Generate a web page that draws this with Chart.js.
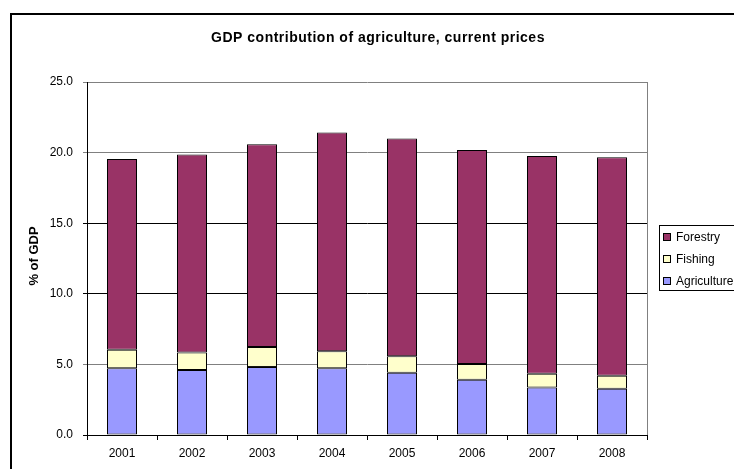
<!DOCTYPE html>
<html>
<head>
<meta charset="utf-8">
<script src="https://cdn.jsdelivr.net/npm/chart.js@4/dist/chart.umd.min.js"></script>
<style>
  body { margin: 0; background: #fff; }
  canvas { display: block; }
</style>
</head>
<body>
<canvas id="grafico" width="734" height="469"></canvas>
<script>
// datos
const years = ['2001', '2002', '2003', '2004', '2005', '2006', '2007', '2008'];
const agriculture = [4.72, 4.60, 4.81, 4.72, 4.41, 3.92, 3.37, 3.28];
const fishing = [1.32, 1.25, 1.42, 1.22, 1.16, 1.10, 0.97, 0.92];
const forestry = [13.51, 14.01, 14.36, 15.48, 15.42, 15.17, 15.42, 15.47];
const yTicks = [0, 5, 10, 15, 20, 25];

const titulo = 'GDP contribution of agriculture, current prices';
const tituloY = '% of GDP';

const fuente = '"Liberation Sans", Arial, sans-serif';

// marco, titulo, leyenda y borde derecho del area
const extras = {
  id: 'extras',
  afterDraw(chart) {
    const c = chart.ctx;
    const a = chart.chartArea;
    c.save();
    // borde derecho del area de trazado
    c.strokeStyle = '#808080';
    c.lineWidth = 1;
    c.beginPath();
    c.moveTo(Math.round(a.right) + 0.5, a.top);
    c.lineTo(Math.round(a.right) + 0.5, a.bottom);
    c.stroke();

    // marco exterior
    c.strokeStyle = '#000';
    c.lineWidth = 2;
    c.strokeRect(11, 14, 800, 600);

    // titulo
    c.fillStyle = '#000';
    c.font = 'bold 14px ' + fuente;
    c.textAlign = 'center';
    c.textBaseline = 'middle';
    c.letterSpacing = '0.5px';
    c.fillText(titulo, 378, 38);
    c.letterSpacing = '0px';

    // titulo eje y
    c.save();
    c.translate(34, 256);
    c.rotate(-Math.PI / 2);
    c.font = 'bold 13px ' + fuente;
    c.fillText(tituloY, 0, 0);
    c.restore();

    // leyenda
    c.lineWidth = 1;
    c.strokeStyle = '#000';
    c.fillStyle = '#fff';
    c.fillRect(659.5, 225.5, 100, 65);
    c.strokeRect(659.5, 225.5, 100, 65);
    const items = chart.data.datasets.slice().reverse();
    const ys = [237, 259, 281];
    c.font = '12px ' + fuente;
    c.textAlign = 'left';
    items.forEach((ds, i) => {
      c.fillStyle = ds.backgroundColor;
      c.fillRect(663.5, ys[i] - 3.5, 7, 7);
      c.strokeRect(663.5, ys[i] - 3.5, 7, 7);
      c.fillStyle = '#000';
      c.fillText(ds.label, 676, ys[i] + 0.5);
    });
    c.restore();
  }
};

const ctx = document.getElementById('grafico');

new Chart(ctx, {
  type: 'bar',
  data: {
    labels: years,
    datasets: [
      { label: 'Agriculture', data: agriculture, backgroundColor: '#9999FF' },
      { label: 'Fishing', data: fishing, backgroundColor: '#FFFFCC' },
      { label: 'Forestry', data: forestry, backgroundColor: '#993366' }
    ].map(d => Object.assign(d, {
      borderColor: '#000',
      borderWidth: 1,
      borderSkipped: false,
      inflateAmount: 0,
      barPercentage: 30 / 70,
      categoryPercentage: 1
    }))
  },
  options: {
    responsive: false,
    animation: false,
    layout: { padding: { top: 82, right: 87, left: 0, bottom: 0 } },
    plugins: {
      legend: { display: false },
      title: { display: false },
      tooltip: { enabled: false }
    },
    scales: {
      x: {
        stacked: true,
        grid: { display: true, drawOnChartArea: false, drawTicks: true, tickLength: 5, color: '#000', offset: true },
        border: { color: '#000' },
        ticks: { color: '#000', font: { family: fuente, size: 12 }, padding: 6, maxRotation: 0 },
        afterFit(s) { s.height = 34; }
      },
      y: {
        stacked: true,
        min: 0,
        max: 25,
        afterBuildTicks(s) { s.ticks = yTicks.map(v => ({ value: v })); },
        grid: {
          color: ctx => (ctx.tick && (ctx.tick.value === 25 || ctx.tick.value === 20 || ctx.tick.value === 5)) ? '#808080' : '#000',
          tickLength: 4
        },
        border: { color: '#000' },
        ticks: {
          color: '#000',
          font: { family: fuente, size: 12 },
          padding: 10,
          callback: v => Number(v).toFixed(1)
        },
        afterFit(s) { s.width = 87; }
      }
    }
  },
  plugins: [extras]
});
</script>
</body>
</html>
